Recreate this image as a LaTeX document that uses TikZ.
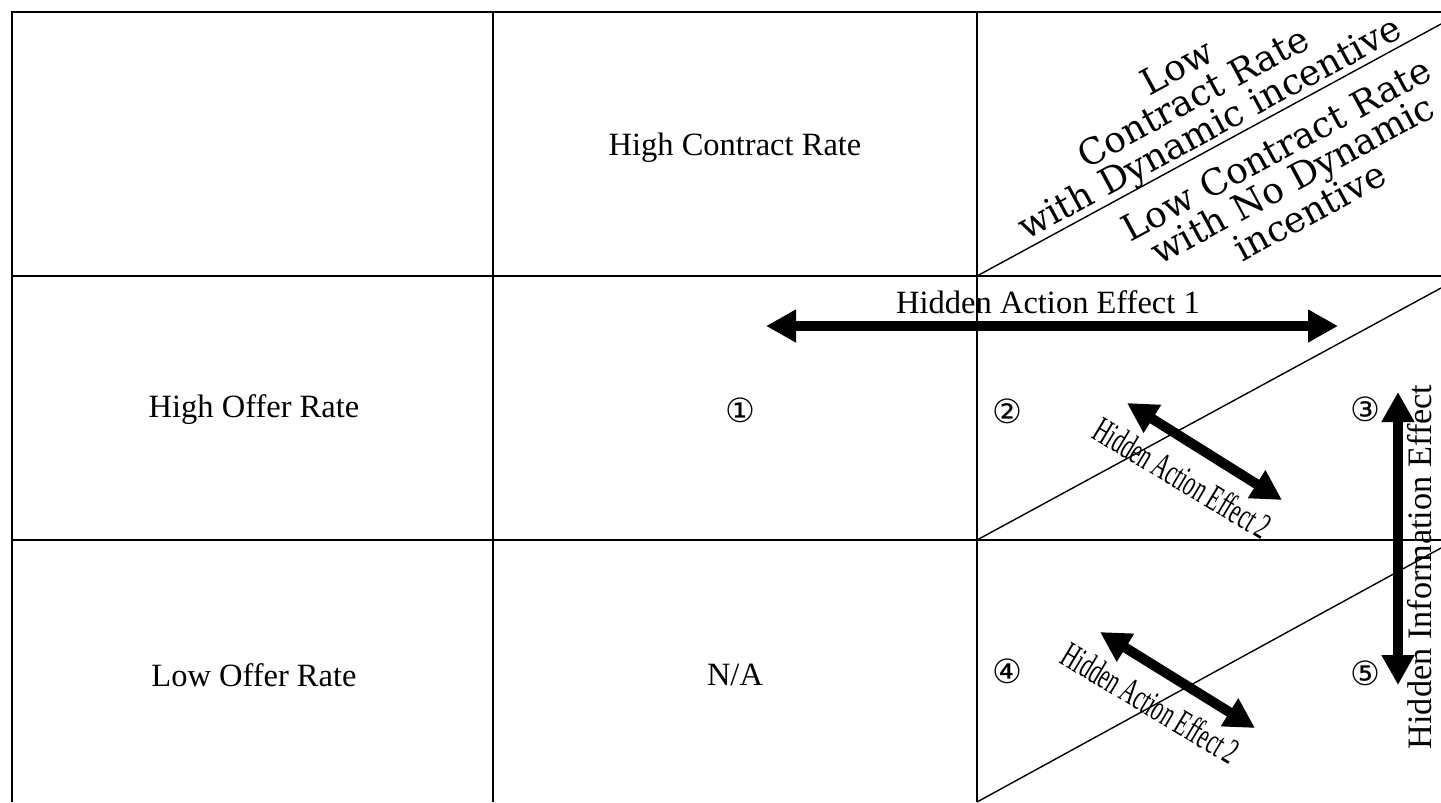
\documentclass[tikz,border=0pt]{standalone}
\usepackage{fontspec}
\setmainfont{Liberation Serif}
\newfontfamily\circfont{DejaVu Sans}
\newfontfamily\headfont{DejaVu Serif}
\usetikzlibrary{positioning}
\usetikzlibrary{arrows.meta}

\tikzset
  {
    gridLine/.style=  {black, line width=1.1pt},
    diagLine/.style=  {black, line width=0.8pt},
    bigArrow/.style=  {line width=0.2cm,
      {Triangle[width=0.62cm,length=0.6cm]}-{Triangle[width=0.62cm,length=0.6cm]}},
    cellText/.style=  {font=\fontsize{18.5}{22}\selectfont},
    headText/.style=  {font=\headfont\fontsize{20.5}{19.5}\selectfont, align=center, rotate=28.4, inner sep=0pt},
    circNum/.style=   {font=\circfont\fontsize{19}{22}\selectfont},
    effectTwo/.style= {font=\fontsize{21}{24}\selectfont, rotate=-31, xscale=0.58, inner sep=0pt}
  }

\begin{document}
\begin{tikzpicture}[x=0.02cm, y=-0.02cm]

\useasboundingbox (0,0) rectangle (1441,802);

% table lines
{
\draw[gridLine] (1441,12)--(12,12)--(12,802);
\draw[gridLine] (12,276)--(1441,276);
\draw[gridLine] (12,540)--(1441,540);
\draw[gridLine] (493,12)--(493,802);
\draw[gridLine] (977,12)--(977,802);

\draw[diagLine] (977,276)--(1441,24);
\draw[diagLine] (977,540)--(1441,288);
\draw[diagLine] (977,802)--(1441,548);
}

% headers
{
\node[cellText] (highContract) at (735,148) {High Contract Rate};
\node[cellText] (highOffer) at (254,410) {High Offer Rate};
\node[cellText] (lowOffer) at (254,675) {Low Offer Rate};
\node[cellText] (notApp) at (735,675) {N/A};

\node[headText] (lowDyn) at (1195,100)
{Low\\Contract Rate\\with Dynamic incentive};
\node[headText] (lowNoDyn) at (1293,180)
{Low Contract Rate\\with No Dynamic\\incentive};
}

% circled numbers
{
\node[circNum] (caseOne) at (740,410) {①};
\node[circNum] (caseTwo) at (1007,411) {②};
\node[circNum] (caseThree) at (1365,409) {③};
\node[circNum] (caseFour) at (1007,671) {④};
\node[circNum] (caseFive) at (1365,673) {⑤};
}

% effects
{
\coordinate (actOneL) at (766,326);
\coordinate (actOneR) at (1338,326);
\draw[bigArrow] (actOneL)--(actOneR);
\node[cellText] (actOneText) at (1048,302) {Hidden Action Effect 1};

\coordinate (infoTop) at (1398,392);
\coordinate (infoBot) at (1398,685);
\draw[bigArrow] (infoTop)--(infoBot);
\node[cellText, font=\fontsize{19.5}{22}\selectfont, rotate=90] (infoText) at (1420,567) {Hidden Information Effect};

\coordinate (actTwoA) at (1127,403);
\coordinate (actTwoB) at (1282,500);
\draw[bigArrow] (actTwoA)--(actTwoB);
\node[effectTwo] (actTwoText) at (1183,478) {Hidden Action Effect 2};

\coordinate (actTwoC) at (1100,632);
\coordinate (actTwoD) at (1255,728);
\draw[bigArrow] (actTwoC)--(actTwoD);
\node[effectTwo] (actTwoTextB) at (1151,703) {Hidden Action Effect 2};
}

\end{tikzpicture}
\end{document}
